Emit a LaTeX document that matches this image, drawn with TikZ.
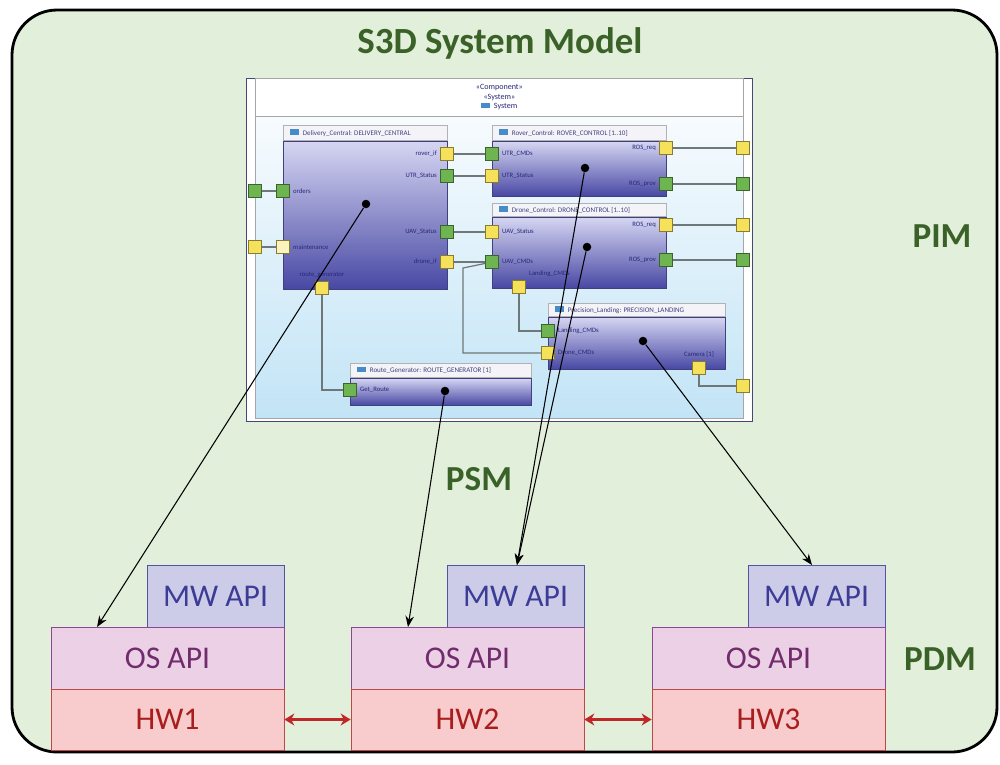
\documentclass[tikz,border=0pt]{standalone}
\usepackage{fontspec}
\setmainfont{Carlito}
\usetikzlibrary{arrows.meta,positioning,calc}

\definecolor{bggreen}{RGB}{226,239,218}
\definecolor{lblgreen}{RGB}{58,98,40}
\definecolor{mwfill}{RGB}{204,204,232}
\definecolor{mwline}{RGB}{84,84,160}
\definecolor{mwtext}{RGB}{60,60,150}
\definecolor{osfill}{RGB}{236,208,230}
\definecolor{osline}{RGB}{140,70,150}
\definecolor{ostext}{RGB}{112,44,108}
\definecolor{hwfill}{RGB}{248,204,204}
\definecolor{hwline}{RGB}{190,70,70}
\definecolor{hwtext}{RGB}{168,30,30}
\definecolor{linkred}{RGB}{192,40,40}
\definecolor{comptop}{RGB}{214,214,243}
\definecolor{compbot}{RGB}{72,72,164}
\definecolor{compline}{RGB}{64,64,128}
\definecolor{headgray}{RGB}{244,244,248}
\definecolor{systop}{RGB}{247,251,254}
\definecolor{sysbot}{RGB}{194,228,246}
\definecolor{sysline}{RGB}{70,70,120}
\definecolor{wiregray}{RGB}{110,120,120}
\definecolor{pinyel}{RGB}{246,226,90}
\definecolor{pingrn}{RGB}{110,180,80}
\definecolor{lbltext}{RGB}{40,40,120}
\definecolor{iconblue}{RGB}{70,140,200}

\newcommand{\compicon}{\textcolor{iconblue}{\rule[0.1mm]{1.7mm}{1.1mm}}\hspace{0.8mm}}

\begin{document}
\begin{tikzpicture}[
    x=0.2mm, y=-0.2mm,
    font=\fontsize{4}{4.5}\selectfont,
    frame/.style={draw=black, line width=1.6pt, fill=bggreen, rounded corners=9mm},
    sysout/.style={rectangle, draw=sysline, fill=white, line width=0.6pt, inner sep=0pt, anchor=north west},
    syshead/.style={rectangle, draw=gray!70, fill=white, inner sep=0pt, anchor=north west},
    sysbody/.style={rectangle, draw=gray!70, top color=systop, bottom color=sysbot, inner sep=0pt, anchor=north west},
    chead/.style={rectangle, draw=gray!60, fill=headgray, inner sep=0pt, anchor=north west},
    ctitle/.style={anchor=west, text=compline, inner sep=0pt, xshift=1.4mm},
    comp/.style={rectangle, draw=compline, top color=comptop, bottom color=compbot, inner sep=0pt, anchor=north west},
    ypin/.style={rectangle, draw=pinyel!55!black, fill=pinyel, minimum size=2.6mm, inner sep=0pt},
    gpin/.style={rectangle, draw=pingrn!55!black, fill=pingrn, minimum size=2.6mm, inner sep=0pt},
    plbl/.style={font=\fontsize{3.8}{4}\selectfont, text=lbltext, inner sep=0.6mm},
    wire/.style={draw=wiregray, line width=0.7pt},
    dot/.style={circle, fill=black, minimum size=1.7mm, inner sep=0pt},
    map/.style={-{Stealth[length=2.2mm,width=1.7mm]}, line width=0.6pt, black},
    link/.style={{Stealth[length=2mm,width=2.4mm]}-{Stealth[length=2mm,width=2.4mm]}, line width=1.8pt, draw=linkred},
    big/.style={font=\fontsize{20}{22}\selectfont\bfseries, text=lblgreen},
    mwbox/.style={rectangle, draw=mwline, fill=mwfill, text=mwtext, minimum width=27.4mm, minimum height=12.4mm, font=\fontsize{18}{20}\selectfont},
    osbox/.style={rectangle, draw=osline, fill=osfill, text=ostext, minimum width=46.6mm, minimum height=12.4mm, font=\fontsize{18}{20}\selectfont},
    hwbox/.style={rectangle, draw=hwline, fill=hwfill, text=hwtext, minimum width=46.6mm, minimum height=12.2mm, font=\fontsize{18}{20}\selectfont},
]

\path[use as bounding box, fill=white] (0,0) rectangle (1000,764);

% ---------- background ----------
\draw[frame] (12,10) rectangle (997,752);
\node[big, font=\fontsize{21}{23}\selectfont\bfseries] (title) at (500,43) {S3D System Model};
\node[big] (pim) at (942,236) {PIM};
\node[big] (psm) at (479,479) {PSM};
\node[big] (pdm) at (940,659) {PDM};

% ---------- system component ----------
\node[sysout, minimum width=101.2mm, minimum height=68.6mm] (sys) at (246,78) {};
\node[syshead, minimum width=97.6mm, minimum height=7.6mm] (sysh) at (255,78) {};
\node[sysbody, minimum width=97.6mm, minimum height=60.4mm] (sysb) at (255,116) {};
\node[align=center, text=lbltext, font=\fontsize{4.6}{5.4}\selectfont] (sysst) at (sysh.center)
  {«Component»\\«System»\\\compicon System};

% ---------- parts ----------
\node[chead, minimum width=32.8mm, minimum height=3mm] (dchd) at (283,125) {};
\node[ctitle] (dctt) at (dchd.west) {\compicon Delivery\_Central: DELIVERY\_CENTRAL};
\node[comp, minimum width=32.8mm, minimum height=29.6mm] (dc) at (dchd.south west) {};

\node[chead, minimum width=34.8mm, minimum height=3mm] (rchd) at (492,125) {};
\node[ctitle] (rctt) at (rchd.west) {\compicon Rover\_Control: ROVER\_CONTROL [1..10]};
\node[comp, minimum width=34.8mm, minimum height=11mm] (rc) at (rchd.south west) {};

\node[chead, minimum width=34.8mm, minimum height=2.6mm] (drhd) at (492,203) {};
\node[ctitle] (drtt) at (drhd.west) {\compicon Drone\_Control: DRONE\_CONTROL [1..10]};
\node[comp, minimum width=34.8mm, minimum height=14.2mm] (dr) at (drhd.south west) {};

\node[chead, minimum width=35.4mm, minimum height=2.6mm] (plhd) at (548,303) {};
\node[ctitle] (pltt) at (plhd.west) {\compicon Precision\_Landing: PRECISION\_LANDING};
\node[comp, minimum width=35.4mm, minimum height=10.4mm] (pl) at (plhd.south west) {};

\node[chead, minimum width=36.2mm, minimum height=2.8mm] (rghd) at (350,363) {};
\node[ctitle] (rgtt) at (rghd.west) {\compicon Route\_Generator: ROUTE\_GENERATOR [1]};
\node[comp, minimum width=36.2mm, minimum height=5.4mm] (rg) at (rghd.south west) {};

% ---------- ports ----------
\node[ypin, label={[plbl]left:rover\_if}]       (dcRover) at (447,154) {};
\node[gpin, label={[plbl]left:UTR\_Status}]     (dcUtr)   at (447,176) {};
\node[gpin, label={[plbl]left:UAV\_Status}]     (dcUav)   at (447,232) {};
\node[ypin, label={[plbl]left:drone\_if}]       (dcDrone) at (447,262) {};
\node[gpin, label={[plbl]right:orders}]         (dcOrd)   at (283,191) {};
\node[ypin, fill=pinyel!40, label={[plbl]right:maintenance}] (dcMnt) at (283,247) {};
\node[ypin, label={[plbl]above:route\_generator}] (dcRoute) at (322,288) {};
\node[gpin] (xOrd) at (255,191) {};
\node[ypin] (xMnt) at (255,247) {};

\node[gpin, label={[plbl]right:UTR\_CMDs}]   (rcCmd)  at (492,154) {};
\node[ypin, label={[plbl]right:UTR\_Status}] (rcStat) at (492,176) {};
\node[ypin, label={[plbl]left:ROS\_req}]     (rcReq)  at (666,148) {};
\node[gpin, label={[plbl]left:ROS\_prov}]    (rcProv) at (666,184) {};

\node[ypin, label={[plbl]right:UAV\_Status}] (drStat) at (492,232) {};
\node[gpin, label={[plbl]right:UAV\_CMDs}]   (drCmd)  at (492,262) {};
\node[ypin, label={[plbl]left:ROS\_req}]     (drReq)  at (666,225) {};
\node[gpin, label={[plbl]left:ROS\_prov}]    (drProv) at (666,260) {};
\node[ypin, label={[plbl]above right:Landing\_CMDs}] (drLand) at (519,287) {};

\node[gpin, label={[plbl]right:Landing\_CMDs}] (plLand)  at (548,331) {};
\node[ypin, label={[plbl]right:Drone\_CMDs}]   (plDrone) at (548,353) {};
\node[ypin, label={[plbl]above:{Camera [1]}}]  (plCam)   at (699,368) {};

\node[gpin, label={[plbl]right:Get\_Route}] (rgGet) at (350,390) {};

\node[ypin] (xR1) at (743,148) {};
\node[gpin] (xR2) at (743,184) {};
\node[ypin] (xR3) at (743,225) {};
\node[gpin] (xR4) at (743,260) {};
\node[ypin] (xR5) at (743,386) {};

% ---------- wires ----------
\coordinate (bend) at (463,268);
\draw[wire] (xOrd) -- (dcOrd);
\draw[wire] (xMnt) -- (dcMnt);
\draw[wire] (dcRover) -- (rcCmd);
\draw[wire] (dcUtr) -- (rcStat);
\draw[wire] (dcUav) -- (drStat);
\draw[wire] (dcDrone) -- (drCmd);
\draw[wire] (drCmd) -- (bend) |- (plDrone);
\draw[wire] (dcRoute) |- (rgGet);
\draw[wire] (drLand) |- (plLand);
\draw[wire] (rcReq) -- (xR1);
\draw[wire] (rcProv) -- (xR2);
\draw[wire] (drReq) -- (xR3);
\draw[wire] (drProv) -- (xR4);
\draw[wire] (plCam) |- (xR5);

% ---------- platform stacks ----------
\foreach \i/\x in {1/51,2/351,3/652} {
  \node[mwbox] (mw\i) at ({\x+164.5},596) {MW API};
  \node[osbox] (os\i) at ({\x+116.5},658) {OS API};
  \node[hwbox] (hw\i) at ({\x+116.5},719.5) {HW\i};
}
\draw[link] (hw1.east) -- (hw2.west);
\draw[link] (hw2.east) -- (hw3.west);

% ---------- mappings ----------
\node[dot] (dcDot) at (366,204) {};
\node[dot] (rcDot) at (585,168) {};
\node[dot] (drDot) at (587,247) {};
\node[dot] (plDot) at (643,341) {};
\node[dot] (rgDot) at (445,391) {};
\coordinate (t1) at (97,627);
\coordinate (t2) at (408,627);
\coordinate (t3) at (517,565);
\coordinate (t5) at (812,565);
\draw[map] (dcDot) -- (t1);
\draw[map] (rgDot) -- (t2);
\draw[map] (rcDot) -- (t3);
\draw[map] (drDot) -- (t3);
\draw[map] (plDot) -- (t5);

\end{tikzpicture}
\end{document}
